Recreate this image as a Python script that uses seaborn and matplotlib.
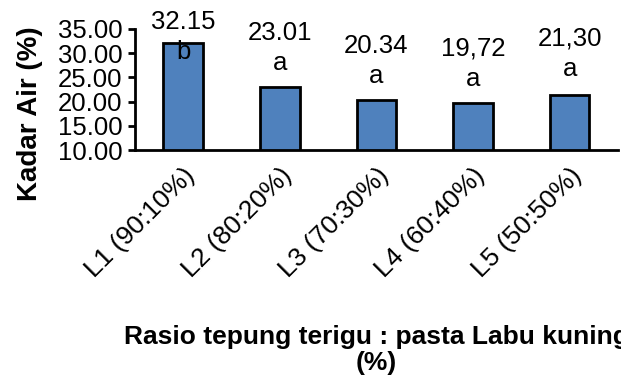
import numpy as np
import pandas as pd
import seaborn as sns
import matplotlib.pyplot as plt
from matplotlib.ticker import FormatStrFormatter

# data
perlakuan = ['L1 (90:10%)', 'L2 (80:20%)', 'L3 (70:30%)', 'L4 (60:40%)', 'L5 (50:50%)']
kadar_air = [32.15, 23.01, 20.34, 19.72, 21.30]
label_nilai = ['32.15', '23.01', '20.34', '19,72', '21,30']
notasi = ['b', 'a', 'a', 'a', 'a']

# label placement (points above bar top)
offset_nilai = [15, 39, 39, 39, 41]
jarak_notasi = 22

sns.set_style('white')
plt.rcParams['font.family'] = ['Liberation Sans', 'DejaVu Sans']
plt.rcParams['text.color'] = 'black'
plt.rcParams['axes.labelcolor'] = 'black'
plt.rcParams['xtick.color'] = 'black'
plt.rcParams['ytick.color'] = 'black'

df = pd.DataFrame({'perlakuan': perlakuan, 'kadar_air': kadar_air})

fig = plt.figure(figsize=(6.21, 3.81), dpi=100)
ax = fig.add_axes([0.217, 0.606, 0.778, 0.318])

sns.barplot(data=df, x='perlakuan', y='kadar_air', color='#4F81BD',
			saturation=1, width=0.41, edgecolor='black', linewidth=2, ax=ax)

ax.set_ylim(10, 35)
ax.set_xlim(-0.5, 4.5)
ax.set_yticks(np.arange(10, 36, 5))
ax.yaxis.set_major_formatter(FormatStrFormatter('%.2f'))

for i, v in enumerate(kadar_air):
	ax.annotate(label_nilai[i], (i, v), xytext=(0, offset_nilai[i]),
				textcoords='offset points', ha='center', va='center',
				fontsize=18.5, annotation_clip=False)
	ax.annotate(notasi[i], (i, v), xytext=(0, offset_nilai[i] - jarak_notasi),
				textcoords='offset points', ha='center', va='center',
				fontsize=18.5, annotation_clip=False)

for s in ['top', 'right']:
	ax.spines[s].set_visible(False)
for s in ['left', 'bottom']:
	ax.spines[s].set_color('black')
	ax.spines[s].set_linewidth(2)

ax.tick_params(axis='y', which='major', left=True, length=5, width=2,
			   color='black', labelsize=18.5, pad=4)
ax.tick_params(axis='x', which='major', bottom=False, labelsize=19, pad=6)
plt.setp(ax.get_xticklabels(), rotation=45, ha='right', rotation_mode='anchor')

ax.set_ylabel('Kadar Air (%)', fontsize=20, fontweight='bold')
ax.yaxis.set_label_coords(-0.19, 0.30)
# the first line runs past the right edge, as in the reference
ax.set_xlabel('Rasio tepung terigu : pasta Labu kuning\n(%)', fontsize=19,
			  fontweight='bold', linespacing=1.1)
ax.xaxis.set_label_coords(0.5, -1.65)
ax.xaxis.label.set_va('center')

fig.savefig('out.png', dpi=100)
plt.close()
